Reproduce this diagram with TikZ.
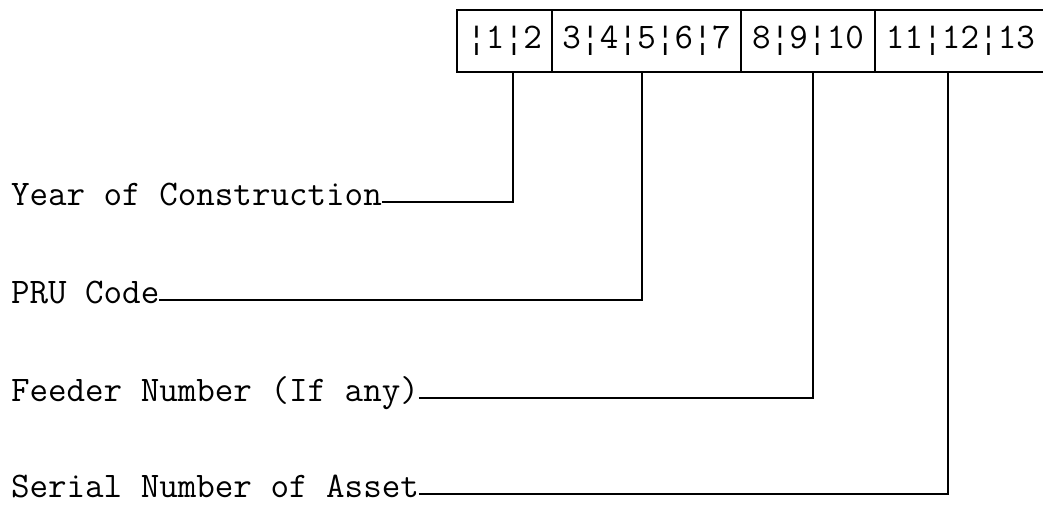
\documentclass[tikz,border=0pt]{standalone}
\usepackage{fontspec}
\newfontfamily\labmono{Liberation Mono}
\newcommand\bbar{{\labmono\fontsize{31.5}{36}\selectfont ¦}}
\begin{document}
\begin{tikzpicture}[x=1pt,y=-1pt,
  every node/.style={inner sep=0pt, outer sep=0pt},
  lab/.style={font=\ttfamily\fontsize{36}{40}\selectfont, anchor=base west},
  cell/.style={draw, line width=1.6pt, minimum height=62pt, text height=14pt, text depth=0pt,
    font=\ttfamily\fontsize{36}{40}\selectfont},
  conn/.style={line width=1.6pt}]
\useasboundingbox (0,0) rectangle (1043,504);
% field cells
\node[cell, minimum width=95pt]  (cell1) at (504.5,41) {\bbar1\bbar2};
\node[cell, minimum width=189pt] (cell2) at (646.5,41) {3\bbar4\bbar5\bbar6\bbar7};
\node[cell, minimum width=134pt] (cell3) at (808,41)   {8\bbar9\bbar10};
\node[cell, minimum width=171pt] (cell4) at (960.5,41) {11\bbar12\bbar13};
% connector start points at cell bottoms
\coordinate (c1) at (513,72);
\coordinate (c2) at (642,72);
\coordinate (c3) at (813,72);
\coordinate (c4) at (948,72);
% labels
\node[lab] (year)   at (11,205) {Year of Construction};
\node[lab] (pru)    at (11,303) {PRU Code};
\node[lab] (feeder) at (11,401) {Feeder Number (If any)};
\node[lab] (serial) at (11,497) {Serial Number of Asset};
% connectors
\draw[conn] ([yshift=3pt]year.base east)   -| (c1);
\draw[conn] ([yshift=3pt]pru.base east)    -| (c2);
\draw[conn] ([yshift=3pt]feeder.base east) -| (c3);
\draw[conn] ([yshift=3pt]serial.base east) -| (c4);
\end{tikzpicture}
\end{document}
